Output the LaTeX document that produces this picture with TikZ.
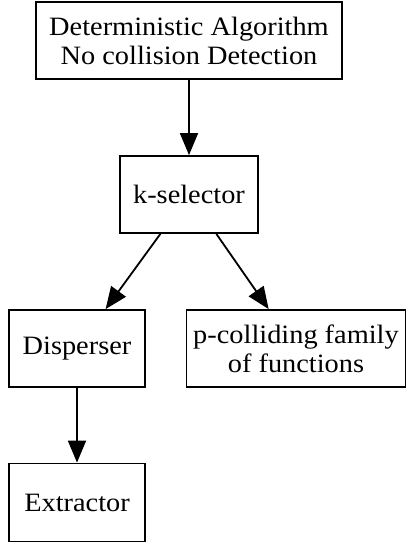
\documentclass[tikz,border=0pt]{standalone}
\usepackage{fontspec}
\setmainfont[FakeStretch=1.07]{Liberation Serif}
\usetikzlibrary{arrows.meta}
\begin{document}
\begin{tikzpicture}[x=1pt,y=-1pt,
  box/.style={draw, line width=1.8pt, rectangle, minimum height=77pt, inner sep=0pt, align=center, font=\fontsize{26.5}{29}\selectfont},
  conn/.style={line width=1.8pt, -{Triangle[length=22pt,width=18pt]}}]
\useasboundingbox (0,0) rectangle (407,546);
\node[box, minimum width=306pt] (top) at (189,40.5) {Deterministic Algorithm\\No collision Detection};
\node[box, minimum width=138pt] (ksel) at (189,194.5) {k-selector};
\node[box, minimum width=136pt] (disp) at (77,348.5) {Disperser};
\node[box, minimum width=219pt] (pcol) at (296,348.5) {p-colliding family\\of functions};
\node[box, minimum width=136pt, minimum height=78pt] (extr) at (77,502.5) {Extractor};
\draw[conn] (top) -- (ksel);
\draw[conn] (ksel) -- (disp);
\draw[conn] (ksel) -- (pcol);
\draw[conn] (disp) -- (extr);
\end{tikzpicture}
\end{document}
